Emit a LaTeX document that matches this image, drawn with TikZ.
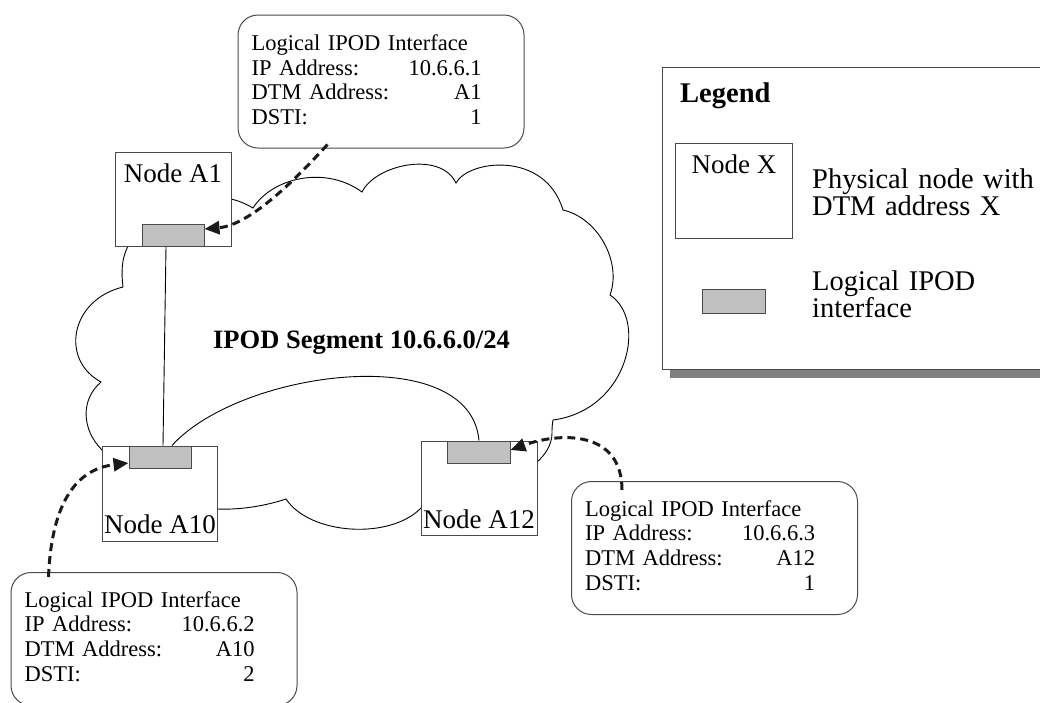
\documentclass[tikz,border=0pt]{standalone}
\usepackage{fontspec}
\setmainfont{Liberation Serif}
\usetikzlibrary{arrows.meta,calc,shadows}

\definecolor{edgegray}{HTML}{4A4A4A}
\definecolor{ifacegray}{HTML}{C0C0C0}
\definecolor{shadowgray}{HTML}{808080}
\definecolor{arrowblack}{HTML}{1A1A1A}

\begin{document}
\begin{tikzpicture}[x=1pt,y=-1pt,
  nodebox/.style={draw=edgegray, line width=1pt, fill=white, minimum width=116pt, minimum height=94pt, inner sep=0pt},
  iface/.style={draw=edgegray, line width=1pt, fill=ifacegray, minimum width=62pt, minimum height=22pt, inner sep=0pt},
  nodelabel/.style={font=\fontsize{27}{30}\selectfont, anchor=base, inner sep=0pt},
  callout/.style={draw=edgegray, line width=1pt, fill=white, rounded corners=20pt, minimum width=286pt, minimum height=133pt, inner sep=0pt},
  calltext/.style={font=\fontsize{22.5}{24.7}\selectfont, text width=230pt, align=left, anchor=base west, inner sep=0pt},
  legtext/.style={font=\fontsize{28.5}{27.5}\selectfont, text width=225pt, align=left, anchor=base west, inner sep=0pt},
  pointer/.style={draw=arrowblack, line width=3pt, dash pattern=on 8pt off 5pt, -{Triangle[length=15pt,width=13pt]}},
  link/.style={draw=black, line width=0.9pt},
]
\useasboundingbox (0,0) rectangle (1040,702);
\clip (0,0) rectangle (1040,702);

% IPOD segment cloud (runs behind the node boxes)
\draw[link] (231,199) .. controls (240,201) and (248,205) .. (253,208)
  .. controls (272,178) and (325,165) .. (362,192)
  .. controls (375,165) and (440,150) .. (456,183)
  .. controls (468,160) and (545,150) .. (563,210)
  .. controls (598,218) and (622,262) .. (610,295)
  .. controls (648,320) and (628,410) .. (553,420)
  .. controls (552,425) and (552,430) .. (552,433)
  .. controls (552,445) and (545,455) .. (537,462)
  -- (421,508)
  .. controls (390,540) and (310,535) .. (286,499)
  .. controls (265,506) and (240,510) .. (217,509)
  -- (102,450)
  .. controls (82,430) and (80,400) .. (101,382)
  .. controls (60,360) and (70,300) .. (123,287)
  .. controls (121,270) and (122,258) .. (128,246)
  -- cycle;

% physical nodes
\node[nodebox] (A1) at (173,199) {};
\node[nodebox, minimum width=115pt, minimum height=95pt] (A10) at (159.5,493.5) {};
\node[nodebox] (A12) at (479,488) {};

% logical interfaces
\node[iface] (A1if) at (173,235) {};
\node[iface] (A10if) at (160,457) {};
\node[iface, minimum width=63pt] (A12if) at (478.5,452) {};

% links between the interfaces
\draw[link] ($(A1if.south)+(-7,0)$) -- ($(A10if.north)+(3,0)$);
\draw[link] ($(A10if.north)+(12,0)$) .. controls (240,370) and (470,340) .. (A12.north);

% node names
\node[nodelabel] (A1lab) at (173,182) {Node A1};
\node[nodelabel] (A10lab) at (160,533) {Node A10};
\node[nodelabel] (A12lab) at (479,528) {Node A12};

\node[font=\bfseries\fontsize{26.5}{30}\selectfont, anchor=base, inner sep=0pt] (seg) at (361.5,348) {IPOD Segment 10.6.6.0/24};

% interface callouts
\node[callout] (c1) at (381,81.5) {};
\node[callout] (cR) at (714.5,548) {};
\node[callout] (cL) at (154,639) {};

\node[calltext] (c1t) at ($(c1.north west)+(14,36)$) {Logical IPOD Interface\\IP Address:\hfill 10.6.6.1\\DTM Address:\hfill A1\\DSTI:\hfill 1};
\node[calltext] (cRt) at ($(cR.north west)+(14,35)$) {Logical IPOD Interface\\IP Address:\hfill 10.6.6.3\\DTM Address:\hfill A12\\DSTI:\hfill 1};
\node[calltext] (cLt) at ($(cL.north west)+(14,35)$) {Logical IPOD Interface\\IP Address:\hfill 10.6.6.2\\DTM Address:\hfill A10\\DSTI:\hfill 2};

% callout pointers
\draw[pointer] ($(c1.south west)+(90,-4)$) .. controls (295,180) and (250,225) .. ([yshift=6pt]A1if.east);
\draw[pointer] ($(cL.north west)+(38,5)$) .. controls (52,490) and (85,468) .. ([yshift=-6pt]A10if.west);
\draw[pointer] ($(cR.north west)+(51,9)$) .. controls (622,430) and (560,432) .. ([yshift=2pt]A12if.east);

% legend
\node[draw=edgegray, line width=1pt, fill=white, minimum width=400pt, minimum height=302pt, inner sep=0pt,
      drop shadow={shadow xshift=8pt, shadow yshift=-9pt, fill=shadowgray, opacity=1}] (legend) at (862,218) {};
\node[font=\bfseries\fontsize{28.5}{30}\selectfont, anchor=base west, inner sep=0pt] (legtitle) at (680,102) {Legend};
\node[nodebox, minimum width=117pt, minimum height=95pt] (legnode) at (733.5,190.5) {};
\node[nodelabel] (legnodelab) at (734,173) {Node X};
\node[legtext] (legnodetext) at (812,188) {Physical node with\\DTM address X};
\node[iface, minimum width=63pt, minimum height=24pt] (legif) at (733.5,301) {};
\node[legtext] (legiftext) at (812,290) {Logical IPOD\\interface};
\end{tikzpicture}
\end{document}
